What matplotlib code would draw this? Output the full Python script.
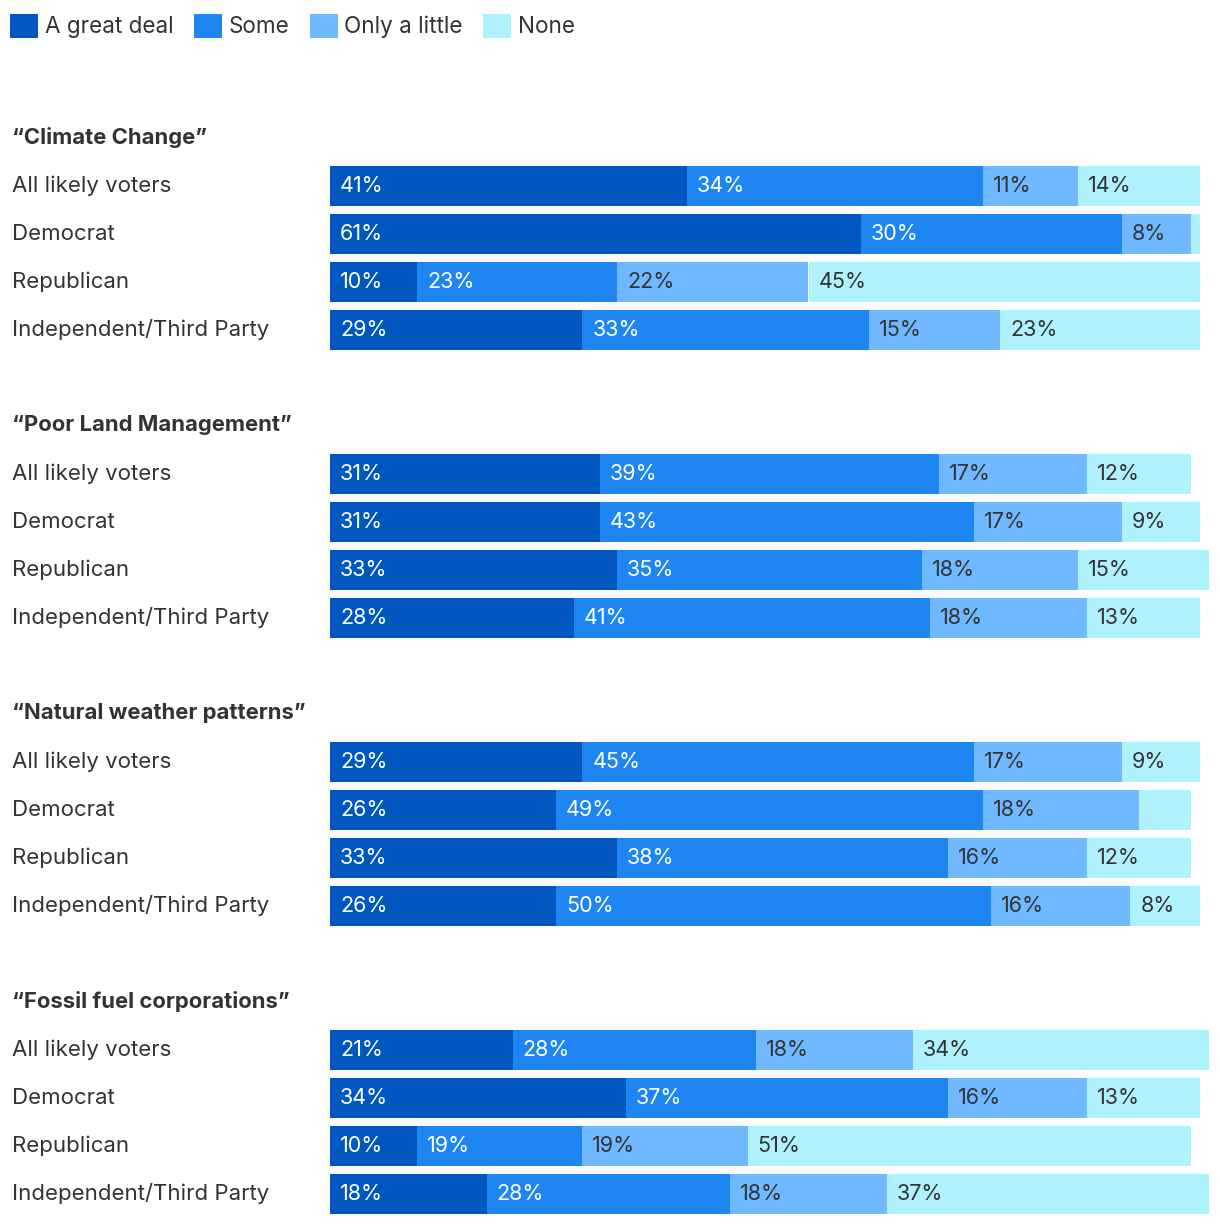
import numpy as np
import matplotlib.pyplot as plt
from matplotlib.patches import Patch

plt.rcParams['font.family'] = ['Inter', 'DejaVu Sans']

levels = ["A great deal", "Some", "Only a little", "None"]
colors = ["#0057c0", "#1e86f2", "#70b8ff", "#aff1fc"]
text_colors = ["white", "white", "#333333", "#333333"]

groups = ["\u201cClimate Change\u201d", "\u201cPoor Land Management\u201d",
          "\u201cNatural weather patterns\u201d", "\u201cFossil fuel corporations\u201d"]
segments = ["All likely voters", "Democrat", "Republican", "Independent/Third Party"]

# rows: [great deal, some, only a little, none]
climate = [[41, 34, 11, 14], [61, 30, 8, 1], [10, 23, 22, 45], [29, 33, 15, 23]]
land = [[31, 39, 17, 12], [31, 43, 17, 9], [33, 35, 18, 15], [28, 41, 18, 13]]
weather = [[29, 45, 17, 9], [26, 49, 18, 6], [33, 38, 16, 12], [26, 50, 16, 8]]
fossil = [[21, 28, 18, 34], [34, 37, 16, 13], [10, 19, 19, 51], [18, 28, 18, 37]]
# small segments that carry no label in the original
hide_below = 7

data = [climate, land, weather, fossil]

W, H = 1220, 1224
fig = plt.figure(figsize=(W / 100, H / 100), dpi=100)
px_per_pct = 8.7
row_px = 48
left_px = 330
ax = fig.add_axes([left_px / W, 0, 1 - left_px / W, 1])
ax.set_xlim(0, (W - left_px) / px_per_pct)
row0_px = 186
ax.set_ylim((H - row0_px) / row_px, -row0_px / row_px)
ax.axis("off")

fs_lab = 16
fs_val = 15.5
fs_head = 15.9
lab_off = 10 / px_per_pct
x_lab = (12 - left_px) / px_per_pct
for g, (title, rows) in enumerate(zip(groups, data)):
    base = g * 6
    ax.text(x_lab, base - 1.02, title,
            fontsize=fs_head, fontweight="bold", color="#333333", va="center", ha="left")
    for r, (seg, vals) in enumerate(zip(segments, rows)):
        y = base + r
        ax.text(x_lab, y - 0.01, seg,
                fontsize=fs_lab, color="#333333", va="center", ha="left")
        start = 0
        for k, v in enumerate(vals):
            ax.barh(y, v, left=start, height=40 / row_px, color=colors[k],
                    linewidth=0, clip_on=False)
            if v >= hide_below:
                ax.text(start + lab_off, y + 0.01, f"{v}%", fontsize=fs_val,
                        color=text_colors[k], va="center", ha="left")
            start += v

fs_leg = 16.2
handles = [Patch(facecolor=c, edgecolor="none") for c in colors]
fig.legend(handles, levels, loc="upper left", bbox_to_anchor=(10 / W, 1 - 14 / H), ncol=4,
           frameon=False, fontsize=fs_leg, handlelength=1.25, handleheight=1.25,
           handletextpad=0.3, columnspacing=0.9, borderaxespad=0, borderpad=0,
           labelcolor="#333333")

fig.savefig("out.png", dpi=100)
